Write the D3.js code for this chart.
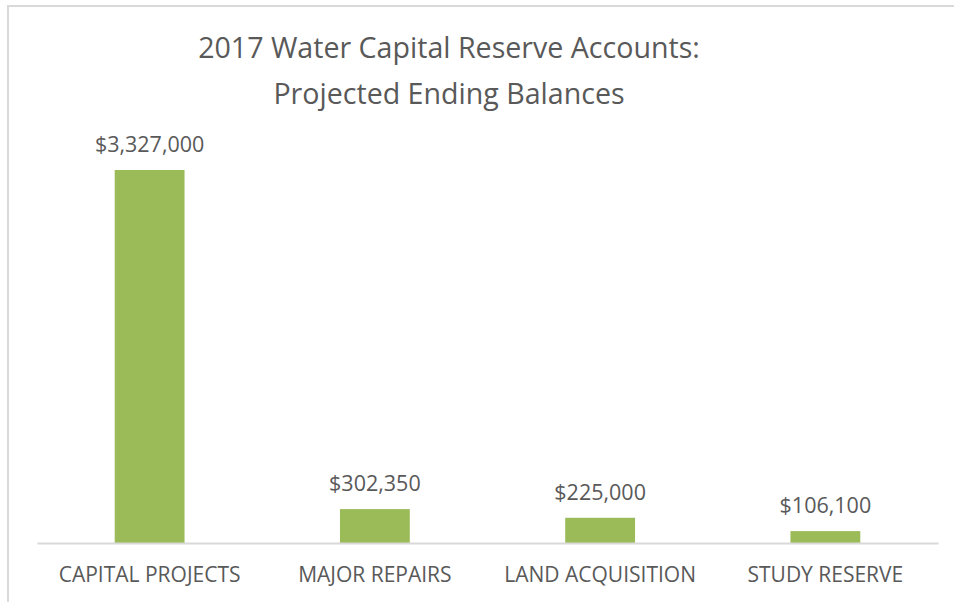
<!DOCTYPE html>
<html><head><meta charset="utf-8">
<script src="https://cdn.jsdelivr.net/npm/d3@7"></script>
<style>html,body{margin:0;padding:0;background:#fff;overflow:hidden}</style>
</head><body>
<svg id="c" width="954" height="602"></svg>
<script>
const categories = ["CAPITAL PROJECTS", "MAJOR REPAIRS", "LAND ACQUISITION", "STUDY RESERVE"];
const values = [3327000, 302350, 225000, 106100];
const titleLines = ["2017 Water Capital Reserve Accounts:", "Projected Ending Balances"];

const svg = d3.select("#c");
const font = "'Open Sans', sans-serif";
const textColor = "#595959";

// chart frame
svg.append("rect").attr("x", 8).attr("y", 6).attr("width", 1000).attr("height", 700)
  .attr("fill", "#fff").attr("stroke", "#d9d9d9").attr("stroke-width", 2);

const x = d3.scaleBand().domain(categories).range([37, 938]).paddingInner(0.69).paddingOuter(0.345);
const y = d3.scaleLinear().domain([0, 3500000]).range([543, 150.6]);

// title
svg.append("text").attr("x", 449).attr("y", 58).attr("text-anchor", "middle")
  .attr("font-family", font).attr("font-size", 28.6).attr("fill", textColor)
  .selectAll("tspan").data(titleLines).join("tspan")
  .attr("x", 449).attr("dy", (d, i) => i === 0 ? 0 : 46).text(d => d);

// bars
svg.append("g").selectAll("rect").data(values).join("rect")
  .attr("x", (d, i) => x(categories[i]))
  .attr("width", x.bandwidth())
  .attr("y", d => y(d))
  .attr("height", d => y(0) - y(d))
  .attr("fill", "#9bbb59");

// axis
const axis = svg.append("g").attr("transform", `translate(0,${y(0)})`)
  .call(d3.axisBottom(x).tickSize(0).tickPadding(0));
axis.select(".domain").attr("stroke", "#d9d9d9").attr("stroke-width", 2);
axis.selectAll("text").attr("font-family", font).attr("font-size", 21)
  .attr("fill", textColor).attr("dy", null).attr("y", 39);

// data labels
const fmt = d3.format("$,");
svg.append("g").selectAll("text").data(values).join("text")
  .attr("x", (d, i) => x(categories[i]) + x.bandwidth() / 2)
  .attr("y", d => y(d) - 18)
  .attr("text-anchor", "middle")
  .attr("font-family", font).attr("font-size", 21.5).attr("fill", textColor)
  .text(d => fmt(d));
</script>
</body></html>
